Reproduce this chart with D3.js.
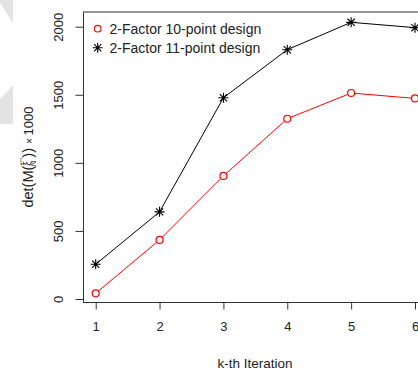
<!DOCTYPE html>
<html><head><meta charset="utf-8">
<script src="https://cdn.jsdelivr.net/npm/d3@7"></script>
<style>body{margin:0;background:#fff;} svg{display:block;font-family:"Liberation Sans",Arial,sans-serif;}</style>
</head><body>
<svg id="c" width="418" height="373"></svg>
<script>
const iterations = [1, 2, 3, 4, 5, 6];
const design10 = [42, 434, 904, 1324, 1513, 1473];
const design11 = [255, 640, 1478, 1831, 2032, 1993];
const yTicks = [0, 500, 1000, 1500, 2000];
const seriesNames = ["2-Factor 10-point design", "2-Factor 11-point design"];

(function () {
const svg = d3.select("#c");
// faint watermark shapes at left edge
svg.append("polygon").attr("points", "0,0 13,0 13,23 0,3").attr("fill", "#e3e3e3");
svg.append("polygon").attr("points", "13,85 13,124 0,124 0,99").attr("fill", "#e3e3e3");

const x = d3.scaleLinear().domain([1, 6]).range([95.7, 415]);
const y = d3.scaleLinear().domain([0, 2000]).range([299, 26.7]);

const pl = 83.5, pt = 12, pb = 302.5, pr = 440;
svg.append("rect").attr("x", pl).attr("y", pt).attr("width", pr - pl).attr("height", pb - pt)
  .attr("fill", "none").attr("stroke", "#333").attr("stroke-width", 1);

// x axis
const xa = svg.append("g").attr("transform", `translate(0,${pb})`)
  .call(d3.axisBottom(x).tickValues(iterations).tickSize(7).tickPadding(12).tickFormat(d3.format("d")));
xa.select(".domain").remove();
xa.selectAll("line").attr("stroke", "#333");
xa.selectAll("text").attr("font-size", 13).attr("fill", "#222");

// y axis
const ya = svg.append("g").attr("transform", `translate(${pl},0)`)
  .call(d3.axisLeft(y).tickValues(yTicks).tickSize(8).tickFormat(d3.format("d")));
ya.select(".domain").remove();
ya.selectAll("line").attr("stroke", "#333");
ya.selectAll("text").remove();
ya.selectAll(".tick").append("text")
  .attr("transform", "translate(-25,0) rotate(-90)")
  .attr("text-anchor", "middle").attr("dy", "0.35em")
  .attr("font-size", 13).attr("fill", "#222").text(d => d);

// titles
svg.append("text").attr("x", 255).attr("y", 368).attr("text-anchor", "middle")
  .attr("font-size", 13.5).attr("fill", "#222").text("k-th Iteration");
const yt = svg.append("text").attr("transform", "translate(33,157) rotate(-90)")
  .attr("text-anchor", "middle").attr("font-size", 14.5).attr("fill", "#222");
yt.append("tspan").text("det(M(");
yt.append("tspan").attr("font-size", 10).attr("dy", -2).text("ξ");
yt.append("tspan").attr("font-size", 8).attr("dy", 5).attr("dx", -5).text("N");
yt.append("tspan").attr("font-size", 8).attr("dy", -11).attr("dx", -5).text("*'''");
yt.append("tspan").attr("dy", 8).text(")) ");
yt.append("tspan").attr("font-size", 10).text("× ");
yt.append("tspan").attr("font-size", 13).text("1000");

const line = d3.line().x((d, i) => x(iterations[i])).y(d => y(d));
svg.append("path").datum(design10).attr("d", line).attr("fill", "none").attr("stroke", "#ff0000").attr("stroke-width", 1);
svg.append("path").datum(design11).attr("d", line).attr("fill", "none").attr("stroke", "#000").attr("stroke-width", 1);

svg.selectAll(".p10").data(design10).enter().append("circle")
  .attr("cx", (d, i) => x(iterations[i])).attr("cy", d => y(d)).attr("r", 3.5)
  .attr("fill", "#fff").attr("stroke", "#ff0000").attr("stroke-width", 1.2);

function star(g, cx, cy, s) {
  const p = `M${cx-s},${cy}L${cx+s},${cy}M${cx},${cy-s}L${cx},${cy+s}` +
    `M${cx-s*0.72},${cy-s*0.72}L${cx+s*0.72},${cy+s*0.72}M${cx-s*0.72},${cy+s*0.72}L${cx+s*0.72},${cy-s*0.72}`;
  g.append("path").attr("d", p).attr("stroke", "#000").attr("stroke-width", 1.1).attr("fill", "none");
}
const sg = svg.append("g");
design11.forEach((d, i) => star(sg, x(iterations[i]), y(d), 5));

// legend
svg.append("circle").attr("cx", 97.7).attr("cy", 28.7).attr("r", 3.3)
  .attr("fill", "#fff").attr("stroke", "#ff0000").attr("stroke-width", 1.1);
star(svg, 97.7, 47.7, 5);
svg.selectAll(".lg").data(seriesNames).enter().append("text")
  .attr("x", 109.5).attr("y", (d, i) => 34 + i * 19).attr("font-size", 14).attr("fill", "#222").text(d => d);
})();
</script>
</body></html>
